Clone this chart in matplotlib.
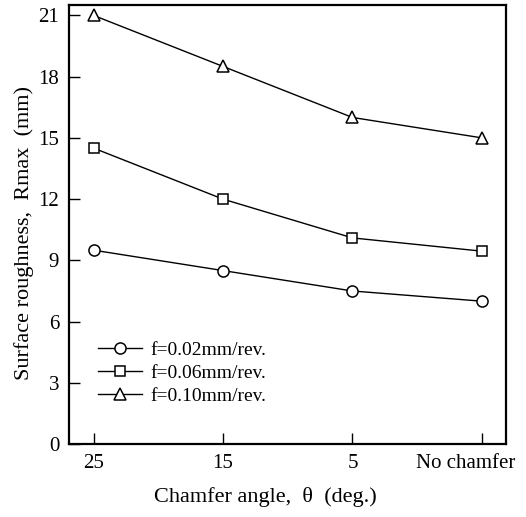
import matplotlib
matplotlib.use("Agg")
import matplotlib.pyplot as plt
from matplotlib.transforms import ScaledTranslation

categories = ["25", "15", "5", "No chamfer"]
f002 = [9.5, 8.5, 7.5, 7.0]
f006 = [14.5, 12.0, 10.1, 9.45]
f010 = [21.0, 18.5, 16.0, 15.0]
series_labels = ["f=0.02mm/rev.", "f=0.06mm/rev.", "f=0.10mm/rev."]
yticks = [0, 3, 6, 9, 12, 15, 18, 21]

plt.rcParams['font.family'] = ['Liberation Serif', 'DejaVu Serif']

fig = plt.figure(figsize=(5.26, 5.17), dpi=100)
ax = fig.add_axes([0.131, 0.141, 0.831, 0.849])

x = list(range(len(categories)))
for vals, m, lab in zip([f002, f006, f010], ['o', 's', '^'], series_labels):
    ax.plot(x, vals, color='black', lw=1.0, marker=m,
            markersize=8.5 if m == '^' else (7.5 if m == 's' else 8),
            markerfacecolor='white', markeredgecolor='black', markeredgewidth=1.1, label=lab)

ax.set_xlim(-0.19, 3.186)
ax.set_ylim(0, 21.5)
ax.set_xticks(x)
ax.set_xticklabels(categories, fontsize=15)
ax.set_yticks(yticks)
ax.set_yticklabels([str(v) for v in yticks], fontsize=15)
ax.tick_params(direction='in', length=8, width=1, pad=7)
for s in ax.spines.values():
    s.set_linewidth(1.6)

# shift the last tick label left so it stays inside the figure
last = ax.get_xticklabels()[-1]
last.set_transform(last.get_transform() + ScaledTranslation(-16 / 100, 0, fig.dpi_scale_trans))

ax.set_xlabel("Chamfer angle,  θ  (deg.)", fontsize=16)
ax.xaxis.set_label_coords(0.45, -0.098)
ax.set_ylabel("Surface roughness,  Rmax  (mm)", fontsize=16)
ax.yaxis.set_label_coords(-0.08, 0.48)

leg = ax.legend(loc='center left', bbox_to_anchor=(0.066, 0.162), frameon=False, fontsize=14,
                handlelength=2.3, handletextpad=0.4, labelspacing=0.28,
                borderpad=0, borderaxespad=0)

fig.savefig("out.png", dpi=100)
